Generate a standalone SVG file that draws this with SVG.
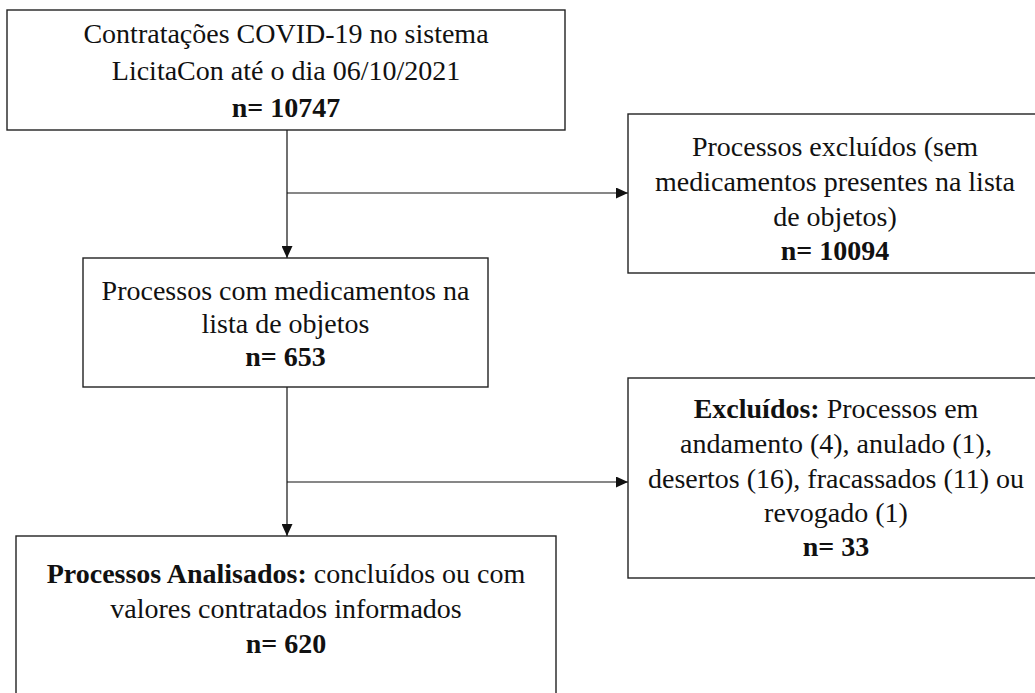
<svg xmlns="http://www.w3.org/2000/svg" width="1035" height="693" viewBox="0 0 1035 693">
<style>
.box{fill:#fff;stroke:#222;stroke-width:1.4}
.t{font-family:"Liberation Serif","Times New Roman",serif;font-size:28px;fill:#111;text-anchor:middle}
.b{font-weight:bold}
.c{fill:none;stroke:#111;stroke-width:1.2}
</style>
<defs>
<marker id="arr" markerWidth="12" markerHeight="11" refX="12" refY="5.5" orient="auto" markerUnits="userSpaceOnUse">
<path d="M0,0 L12,5.5 L0,11 Z" fill="#111"/>
</marker>
</defs>
<rect width="1035" height="693" fill="#fff"/>
<g id="connectors">
<line class="c" x1="287" y1="130" x2="287" y2="258" marker-end="url(#arr)"/>
<line class="c" x1="287" y1="193" x2="628" y2="193" marker-end="url(#arr)"/>
<line class="c" x1="287" y1="387" x2="287" y2="536" marker-end="url(#arr)"/>
<line class="c" x1="287" y1="482" x2="628" y2="482" marker-end="url(#arr)"/>
</g>
<g id="n1">
<rect class="box" x="7" y="10" width="558" height="120"/>
<text class="t" x="286" y="43">Contratações COVID-19 no sistema</text>
<text class="t" x="286" y="80">LicitaCon até o dia 06/10/2021</text>
<text class="t b" x="286" y="117">n= 10747</text>
</g>
<g id="n2">
<rect class="box" x="628" y="114" width="414" height="159"/>
<text class="t" x="835" y="156">Processos excluídos (sem</text>
<text class="t" x="835" y="191">medicamentos presentes na lista</text>
<text class="t" x="835" y="226">de objetos)</text>
<text class="t b" x="835" y="260">n= 10094</text>
</g>
<g id="n3">
<rect class="box" x="83" y="258" width="405" height="129"/>
<text class="t" x="285.5" y="300">Processos com medicamentos na</text>
<text class="t" x="285.5" y="333">lista de objetos</text>
<text class="t b" x="285.5" y="366">n= 653</text>
</g>
<g id="n4">
<rect class="box" x="628" y="378" width="414" height="200"/>
<text class="t" x="836" y="418"><tspan class="b">Excluídos:</tspan> Processos em</text>
<text class="t" x="836" y="453">andamento (4), anulado (1),</text>
<text class="t" x="836" y="488">desertos (16), fracassados (11) ou</text>
<text class="t" x="836" y="522">revogado (1)</text>
<text class="t b" x="836" y="556">n= 33</text>
</g>
<g id="n5">
<rect class="box" x="16" y="536" width="540" height="170"/>
<text class="t" x="286" y="583"><tspan class="b">Processos Analisados:</tspan> concluídos ou com</text>
<text class="t" x="286" y="618">valores contratados informados</text>
<text class="t b" x="286" y="653">n= 620</text>
</g>
</svg>
